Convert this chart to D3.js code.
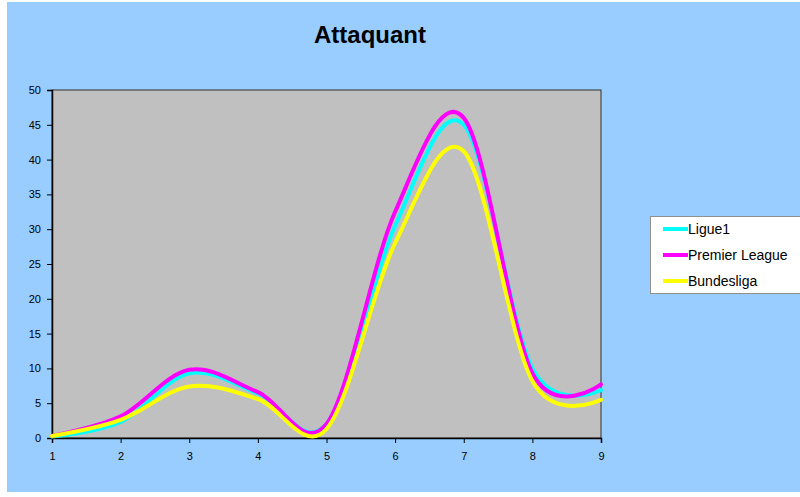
<!DOCTYPE html>
<html>
<head>
<meta charset="utf-8">
<script src="https://cdn.jsdelivr.net/npm/d3@7"></script>
<style>
  html, body { margin: 0; padding: 0; background: #ffffff; }
  svg { display: block; font-family: Arial, "Liberation Sans", sans-serif; }
</style>
</head>
<body>
<svg id="chart" width="800" height="497"></svg>
<script>
// Attaquant: values per position (1..9) for three leagues
const categories = [1, 2, 3, 4, 5, 6, 7, 8, 9];
const ligue1     = [0.2, 2.3, 9.3, 6.4, 2.0, 30.5, 45.0, 10.0, 6.9];
const premier    = [0.3, 3.1, 9.8, 6.6, 2.0, 32.5, 46.0, 9.3, 7.7];
const bundesliga = [0.3, 2.6, 7.4, 5.6, 1.3, 28.0, 41.2, 8.2, 5.5];
const yTicks = [0, 5, 10, 15, 20, 25, 30, 35, 40, 45, 50];
const seriesNames = ["Ligue1", "Premier League", "Bundesliga"];
const seriesColors = ["#00FFFF", "#FF00FF", "#FFFF00"];
const title = "Attaquant";

const series = [ligue1, premier, bundesliga].map((vals, i) => ({
  name: seriesNames[i], color: seriesColors[i],
  points: categories.map((c, j) => ({ x: c, y: vals[j] }))
}));

const svg = d3.select("#chart");

// chart area background
svg.append("rect")
  .attr("x", 7).attr("y", 2).attr("width", 800).attr("height", 490)
  .attr("fill", "#99CCFF");

const plot = { left: 52, right: 601, top: 90, bottom: 438 };
const x = d3.scaleLinear().domain([1, 9]).range([plot.left, plot.right]);
const y = d3.scaleLinear().domain([0, 50]).range([plot.bottom, plot.top]);

// plot area
svg.append("rect")
  .attr("x", plot.left).attr("y", plot.top)
  .attr("width", plot.right - plot.left).attr("height", plot.bottom - plot.top)
  .attr("fill", "#C0C0C0").attr("stroke", "#303030").attr("stroke-width", 1);

// title
svg.append("text")
  .attr("x", 370).attr("y", 43)
  .attr("text-anchor", "middle")
  .attr("font-size", 24).attr("font-weight", "bold")
  .attr("fill", "#000").text(title);

// axes
const yAxis = d3.axisLeft(y).tickValues(yTicks).tickSize(5).tickPadding(6).tickFormat(d3.format("d"));
const gy = svg.append("g").attr("transform", `translate(${plot.left},0)`).call(yAxis);
const xAxis = d3.axisBottom(x).tickValues(categories).tickSize(5).tickPadding(9).tickFormat(d3.format("d"));
const gx = svg.append("g").attr("transform", `translate(0,${plot.bottom})`).call(xAxis);
[gx, gy].forEach(g => {
  g.selectAll("text").attr("font-size", 11).attr("fill", "#000").attr("font-family", "Arial, 'Liberation Sans', sans-serif");
  g.selectAll("line").attr("stroke", "#000");
  g.select(".domain").attr("stroke", "#000").attr("stroke-width", 1.5);
});

// smoothed lines
const line = d3.line()
  .x(d => x(d.x)).y(d => y(d.y))
  .curve(d3.curveCardinal.tension(0));

svg.append("g").selectAll("path")
  .data(series)
  .join("path")
  .attr("d", d => line(d.points))
  .attr("fill", "none")
  .attr("stroke", d => d.color)
  .attr("stroke-width", 4)
  .attr("stroke-linejoin", "round")
  .attr("stroke-linecap", "round");

// legend
const legend = svg.append("g");
legend.append("rect")
  .attr("x", 650.5).attr("y", 216.5).attr("width", 160).attr("height", 77)
  .attr("fill", "#fff").attr("stroke", "#909090");
const rowY = [229, 255, 281];
series.forEach((s, i) => {
  legend.append("line")
    .attr("x1", 663).attr("x2", 688)
    .attr("y1", rowY[i]).attr("y2", rowY[i])
    .attr("stroke", s.color).attr("stroke-width", 4);
  legend.append("text")
    .attr("x", 688).attr("y", rowY[i] + 5)
    .attr("font-size", 14).attr("fill", "#000")
    .text(s.name);
});
</script>
</body>
</html>
